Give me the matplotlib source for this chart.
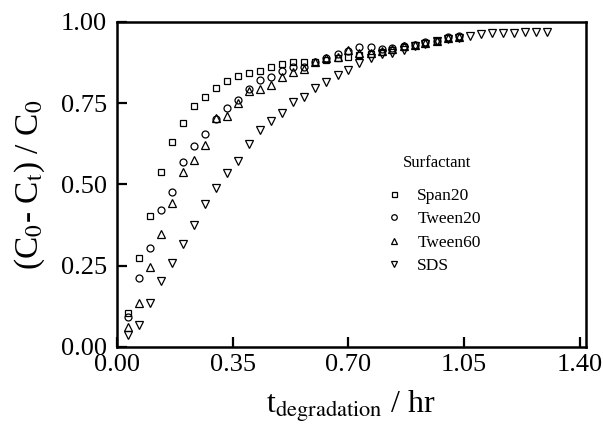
import numpy as np
import matplotlib
matplotlib.use("Agg")
import matplotlib.pyplot as plt

# --- DATA ---
t_surf = [0.033, 0.067, 0.100, 0.133, 0.167, 0.200, 0.233, 0.267, 0.300, 0.333,
          0.367, 0.400, 0.433, 0.467, 0.500, 0.533, 0.567, 0.600, 0.633, 0.667,
          0.700, 0.733, 0.767, 0.800, 0.833, 0.867, 0.900, 0.933, 0.967, 1.000,
          1.033]
t_sds = t_surf + [1.067, 1.100, 1.133, 1.167, 1.200, 1.233, 1.267, 1.300]

span20 = [0.104, 0.273, 0.403, 0.539, 0.629, 0.690, 0.742, 0.770, 0.796, 0.818,
          0.832, 0.844, 0.850, 0.862, 0.871, 0.876, 0.876, 0.876, 0.884, 0.889,
          0.893, 0.898, 0.900, 0.908, 0.915, 0.922, 0.929, 0.936, 0.940, 0.950,
          0.952]
tween20 = [0.093, 0.213, 0.305, 0.420, 0.478, 0.570, 0.618, 0.654, 0.700, 0.734,
           0.760, 0.793, 0.822, 0.830, 0.848, 0.862, 0.860, 0.876, 0.888, 0.902,
           0.910, 0.924, 0.922, 0.916, 0.920, 0.927, 0.929, 0.938, 0.942, 0.955,
           0.957]
tween60 = [0.062, 0.134, 0.245, 0.347, 0.442, 0.539, 0.575, 0.622, 0.703, 0.711,
           0.750, 0.786, 0.795, 0.806, 0.830, 0.846, 0.855, 0.876, 0.888, 0.893,
           0.912, 0.905, 0.905, 0.910, 0.917, 0.925, 0.929, 0.936, 0.940, 0.950,
           0.952]
sds = [0.037, 0.068, 0.136, 0.204, 0.258, 0.317, 0.375, 0.440, 0.488, 0.534,
       0.572, 0.625, 0.668, 0.696, 0.721, 0.755, 0.770, 0.796, 0.816, 0.837,
       0.852, 0.875, 0.890, 0.900, 0.905, 0.915, 0.925, 0.933, 0.940, 0.947,
       0.950, 0.957, 0.962, 0.965, 0.965, 0.966, 0.968, 0.970, 0.968]

x_ticks = [0.00, 0.35, 0.70, 1.05, 1.40]
y_ticks = [0.00, 0.25, 0.50, 0.75, 1.00]

# --- STYLE ---
plt.rcParams['font.family'] = ['Liberation Serif', 'DejaVu Serif']
plt.rcParams['mathtext.fontset'] = 'stix'

fig = plt.figure(figsize=(6.03, 4.38), dpi=100)
ax = fig.add_axes([0.194, 0.208, 0.777, 0.742])

mk = dict(linestyle='none', mfc='none', mec='black', mew=0.9)
ax.plot(t_surf, span20, marker='s', ms=4.5, label='Span20', **mk)
ax.plot(t_surf, tween20, marker='o', ms=5, label='Tween20', **mk)
ax.plot(t_surf, tween60, marker='^', ms=5.5, label='Tween60', **mk)
ax.plot(t_sds, sds, marker='v', ms=5.5, label='SDS', **mk)

ax.set_xlim(0, 1.417)
ax.set_ylim(0, 1.0)
ax.set_xticks(x_ticks)
ax.set_xticklabels([f"{v:.2f}" for v in x_ticks])
ax.set_yticks(y_ticks)
ax.set_yticklabels([f"{v:.2f}" for v in y_ticks])
ax.tick_params(direction='in', length=7, width=1.6, labelsize=19)
ax.tick_params(axis='x', pad=5)
ax.tick_params(axis='y', pad=7)

for s in ax.spines.values():
    s.set_linewidth(1.8)

ax.set_xlabel(r't$_\mathrm{degradation}$ / hr', fontsize=23, labelpad=9)
ax.set_ylabel(r'(C$_0$- C$_\mathrm{t}$) / C$_0$', fontsize=24, labelpad=10)

# legend: title drawn as separate text so the gap matches the original
leg = ax.legend(loc='upper left',
                bbox_to_anchor=(0.636, 0.571), bbox_transform=fig.transFigure,
                frameon=False, fontsize=12.5,
                borderpad=0, borderaxespad=0, handlelength=1.2,
                handletextpad=0.75, labelspacing=0.42, markerscale=0.8)
fig.text(437 / 603, 1 - 163 / 438, 'Surfactant', ha='center', va='center',
         fontsize=12)

fig.savefig('out.png', dpi=100)
